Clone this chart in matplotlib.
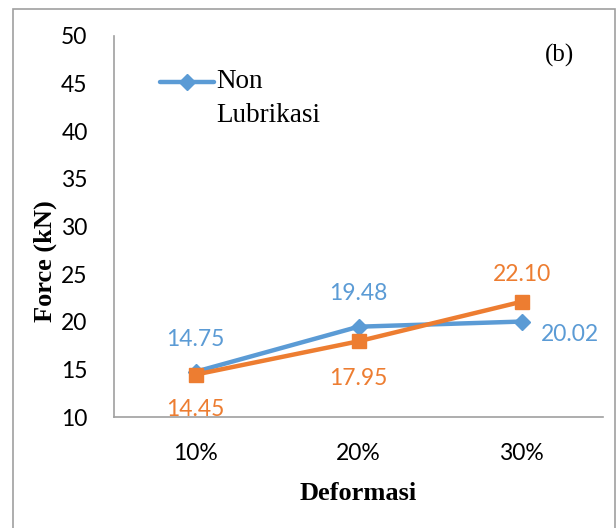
import matplotlib
matplotlib.use("Agg")
import matplotlib.pyplot as plt
from matplotlib.patches import Rectangle

categories = ["10%", "20%", "30%"]
non_lubrikasi = [14.75, 19.48, 20.02]
lubrikasi = [14.45, 17.95, 22.10]
y_ticks = [10, 15, 20, 25, 30, 35, 40, 45, 50]

BLUE = "#5B9BD5"
ORANGE = "#ED7D31"
SANS = "Lato"
SERIF = "Liberation Serif"
PX = 72 / 100  # points per pixel at dpi 100

fig = plt.figure(figsize=(6.16, 5.28), dpi=100)
W, H = 616, 528
ax = fig.add_axes([114 / W, 1 - 417 / H, (603 - 114) / W, (417 - 36) / H])

x = list(range(len(categories)))
l1, = ax.plot(x, non_lubrikasi, color=BLUE, lw=3.2, marker="D", ms=8.5,
              solid_capstyle="round", zorder=3, label="Non\nLubrikasi")
l2, = ax.plot(x, lubrikasi, color=ORANGE, lw=3.2, marker="s", ms=10.5,
              solid_capstyle="round", zorder=4, label="Lubrikasi")

ax.set_xlim(-0.5, 2.5)
ax.set_ylim(10, 50)
ax.set_yticks(y_ticks)
ax.set_xticks(x)
ax.set_xticklabels(categories)
ax.tick_params(length=0, labelsize=16.5, colors="black")
ax.tick_params(axis="y", pad=19)
ax.tick_params(axis="x", pad=19)
for lab in ax.get_xticklabels() + ax.get_yticklabels():
    lab.set_fontfamily(SANS)

for s in ("top", "right"):
    ax.spines[s].set_visible(False)
for s in ("left", "bottom"):
    ax.spines[s].set_color("#a0a0a0")
    ax.spines[s].set_linewidth(1.2)

ax.set_xlabel("Deformasi", family=SERIF, fontweight="bold", fontsize=19)
ax.set_ylabel("Force (kN)", family=SERIF, fontweight="bold", fontsize=19)
ax.xaxis.set_label_coords(0.5, -(493 - 417) / (417 - 36), transform=ax.transAxes)
ax.yaxis.set_label_coords(-(114 - 45) / (603 - 114), (417 - 261) / (417 - 36),
                          transform=ax.transAxes)
ax.xaxis.label.set_va("center")
ax.yaxis.label.set_va("center")

# value labels (offsets in pixels)
blue_offsets = [(0, 32), (0, 33), (48, -13)]
orange_offsets = [(0, -35), (0, -37), (0, 27)]
for xi, v, (dx, dy) in zip(x, non_lubrikasi, blue_offsets):
    ax.annotate(f"{v:.2f}", (xi, v), xytext=(dx * PX, dy * PX),
                textcoords="offset points", ha="center", va="center",
                color=BLUE, fontsize=16.5, family=SANS)
for xi, v, (dx, dy) in zip(x, lubrikasi, orange_offsets):
    ax.annotate(f"{v:.2f}", (xi, v), xytext=(dx * PX, dy * PX),
                textcoords="offset points", ha="center", va="center",
                color=ORANGE, fontsize=16.5, family=SANS)

leg = ax.legend(handles=[l1], loc="upper left",
                bbox_to_anchor=(160 / W, 1 - 69 / H), bbox_transform=fig.transFigure,
                frameon=False, prop={"family": SERIF, "size": 19.5},
                handlelength=2.0, handletextpad=0.08, borderpad=0,
                borderaxespad=0, labelspacing=0)
leg.get_texts()[0].set_linespacing(1.45)
# keep the legend line level with the first line of its label
for ln in leg.get_lines():
    ln.set_ydata([y + 16 * PX for y in ln.get_ydata()])

fig.text(560 / W, 1 - 55 / H, "(b)", family=SERIF, fontsize=18,
         ha="center", va="center")

# outer frame
fig.patches.append(Rectangle((13 / W, -0.05), (615 - 13) / W, 1.05 - 9 / H,
                             transform=fig.transFigure, fill=False,
                             edgecolor="#a0a0a0", lw=1.2))

fig.savefig("out.png", dpi=100)
